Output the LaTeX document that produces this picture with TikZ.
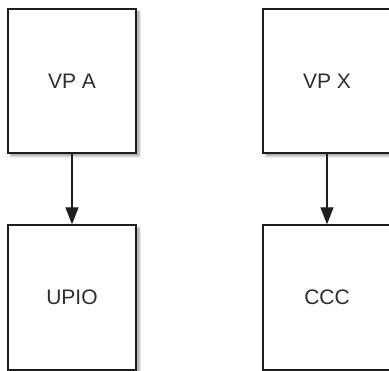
\documentclass[tikz,border=0pt]{standalone}
\usepackage{fontspec}
\setmainfont{Liberation Sans}
\usetikzlibrary{shadows.blur,arrows.meta}
\definecolor{linec}{HTML}{1E1E1E}
\definecolor{textc}{HTML}{2E2E2E}
\begin{document}
\begin{tikzpicture}[x=1pt,y=-1pt,
  box/.style={draw=linec, line width=1.4pt, fill=white, minimum width=128pt,
    inner sep=0pt, font=\fontsize{21}{25}\selectfont, text=textc,
    blur shadow={shadow xshift=3pt, shadow yshift=-3pt, shadow blur steps=6, shadow blur radius=2.5pt, shadow opacity=40}},
  topbox/.style={box, minimum height=144pt},
  botbox/.style={box, minimum height=145pt},
  conn/.style={draw=linec, line width=1.4pt, -{Triangle[length=17pt,width=13pt]}}]
\useasboundingbox (0,0) rectangle (389,371);
\node[topbox] (vpa) at (72,81) {VP A};
\node[botbox] (upio) at (72,297.5) {UPIO};
\node[topbox] (vpx) at (327,81) {VP X};
\node[botbox] (ccc) at (327,297.5) {CCC};
\draw[conn] (vpa) -- (upio);
\draw[conn] (vpx) -- (ccc);
\end{tikzpicture}
\end{document}
